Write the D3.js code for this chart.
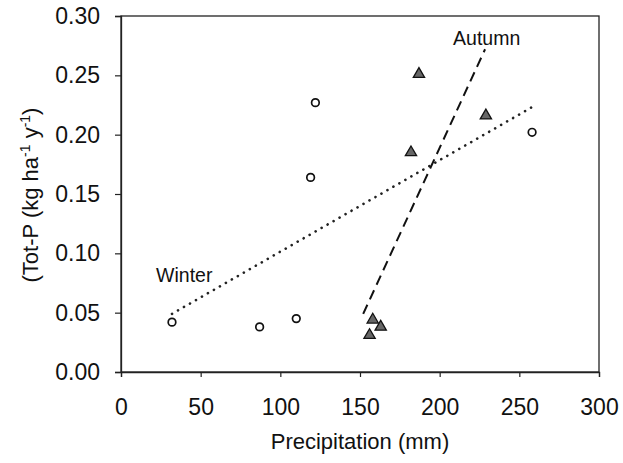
<!DOCTYPE html>
<html lang="en">
<head>
    <meta charset="UTF-8">
    <title>Tot-P vs Precipitation</title>
    <script src="https://d3js.org/d3.v7.min.js"></script>
    <style>
        body { margin: 0; background: #fff; font-family: "Liberation Sans", Arial, sans-serif; }
        .tick text { font-size: 23px; fill: #111; }
        .label { font-size: 19.5px; fill: #111; }
    </style>
</head>
<body>
<div id="chart"></div>
<script>
    // winter (open circles)
    const winterPrecip = [32, 87, 110, 119, 122, 258];
    const winterTotP   = [0.042, 0.038, 0.045, 0.164, 0.227, 0.202];
    // autumn (filled triangles)
    const autumnPrecip = [156, 158, 163, 182, 187, 229];
    const autumnTotP   = [0.031, 0.044, 0.038, 0.185, 0.251, 0.216];
    // fitted lines (end points)
    const winterFitX = [32, 259];
    const winterFitY = [0.049, 0.224];
    const autumnFitX = [152, 228.5];
    const autumnFitY = [0.049, 0.272];

    const xTicks = [0, 50, 100, 150, 200, 250, 300];
    const yTicks = [0, 0.05, 0.10, 0.15, 0.20, 0.25, 0.30];

    const W = 623, H = 463;
    const margin = { top: 16, right: 24, bottom: 91, left: 121 };
    const width = W - margin.left - margin.right,
          height = H - margin.top - margin.bottom;

    const svg = d3.select("#chart").append("svg")
        .attr("width", W)
        .attr("height", H);
    const g = svg.append("g")
        .attr("transform", `translate(${margin.left},${margin.top})`);

    const x = d3.scaleLinear().domain([0, 300]).range([0, width]);
    const y = d3.scaleLinear().domain([0, 0.30]).range([height, 0]);

    // frame
    g.append("rect")
        .attr("width", width).attr("height", height)
        .attr("fill", "none").attr("stroke", "#222").attr("stroke-width", 1.3);

    const xAxis = g.append("g")
        .attr("transform", `translate(0,${height})`)
        .call(d3.axisBottom(x).tickValues(xTicks).tickSize(5).tickPadding(22).tickFormat(d3.format("d")));
    const yAxis = g.append("g")
        .call(d3.axisLeft(y).tickValues(yTicks).tickSize(6).tickPadding(15).tickFormat(d3.format(".2f")));
    [xAxis, yAxis].forEach(a => {
        a.select(".domain").attr("stroke", "#222").attr("stroke-width", 1.3);
        a.selectAll(".tick line").attr("stroke", "#222").attr("stroke-width", 1.2);
        a.selectAll(".tick text").attr("font-family", "Liberation Sans, Arial, sans-serif");
    });

    // fit lines
    const line = d3.line().x(d => x(d[0])).y(d => y(d[1]));
    g.append("path")
        .datum(d3.zip(winterFitX, winterFitY))
        .attr("d", line)
        .attr("fill", "none").attr("stroke", "#222")
        .attr("stroke-width", 2.6).attr("stroke-dasharray", "0.1 6.8").attr("stroke-linecap", "round");
    g.append("path")
        .datum(d3.zip(autumnFitX, autumnFitY))
        .attr("d", line)
        .attr("fill", "none").attr("stroke", "#111")
        .attr("stroke-width", 2).attr("stroke-dasharray", "10 6");

    // winter points
    g.selectAll(".winter")
        .data(d3.zip(winterPrecip, winterTotP))
        .join("circle")
        .attr("class", "winter")
        .attr("cx", d => x(d[0])).attr("cy", d => y(d[1]))
        .attr("r", 3.8)
        .attr("fill", "#fff").attr("stroke", "#111").attr("stroke-width", 1.7);

    // autumn points
    const tri = d3.symbol().type(d3.symbolTriangle).size(55);
    g.selectAll(".autumn")
        .data(d3.zip(autumnPrecip, autumnTotP))
        .join("path")
        .attr("class", "autumn")
        .attr("d", tri)
        .attr("transform", d => `translate(${x(d[0])},${y(d[1])})`)
        .attr("fill", "#666").attr("stroke", "#111").attr("stroke-width", 1.3);

    // series labels
    g.append("text").attr("class", "label")
        .attr("x", x(22)).attr("y", y(0.0758))
        .text("Winter");
    g.append("text").attr("class", "label")
        .attr("x", x(208.4)).attr("y", y(0.2755))
        .text("Autumn");

    // axis titles
    g.append("text").attr("class", "label")
        .attr("x", width / 2).attr("y", height + 77)
        .attr("text-anchor", "middle")
        .style("font-size", "22px")
        .text("Precipitation (mm)");

    const yt = g.append("text").attr("class", "label")
        .attr("transform", `translate(${-83},${179}) rotate(-90)`)
        .attr("text-anchor", "middle")
        .style("font-size", "22px");
    yt.append("tspan").text("(Tot-P (kg ha");
    yt.append("tspan").attr("dy", -8).style("font-size", "14px").text("-1");
    yt.append("tspan").attr("dy", 8).text(" y");
    yt.append("tspan").attr("dy", -8).style("font-size", "14px").text("-1");
    yt.append("tspan").attr("dy", 8).text(")");
</script>
</body>
</html>
